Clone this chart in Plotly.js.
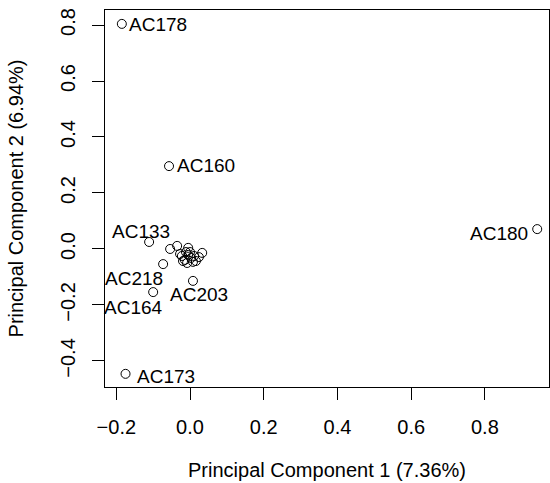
<!DOCTYPE html>
<html>
<head>
<meta charset="utf-8">
<script src="https://cdn.plot.ly/plotly-3.0.1.min.js"></script>
<style>html,body{margin:0;padding:0;background:#fff;}#chart{width:550px;height:483px;}</style>
</head>
<body>
<div id="chart"></div>
<script>
// Labelled samples
const labelNames = ["AC178", "AC160", "AC180", "AC133", "AC173", "AC218", "AC164", "AC203"];
const labelPC1 = [-0.185, -0.057, 0.942, -0.111, -0.175, -0.073, -0.100, 0.008];
const labelPC2 = [0.804, 0.296, 0.071, 0.025, -0.446, -0.054, -0.154, -0.114];

// Unlabelled samples (central cluster)
const clusterPC1 = [-0.054, -0.035, -0.005, 0.033, -0.022, -0.014, -0.005, 0.003, 0.011, 0.016, -0.008, -0.019, 0.000, 0.008, -0.027, -0.011, 0.024];
const clusterPC2 = [0.000, 0.011, 0.004, -0.014, -0.025, -0.039, -0.021, -0.032, -0.025, -0.043, -0.050, -0.043, -0.011, -0.046, -0.018, -0.011, -0.029];

const xTicks = [-0.2, 0.0, 0.2, 0.4, 0.6, 0.8];
const yTicks = [-0.4, -0.2, 0.0, 0.2, 0.4, 0.6, 0.8];

// label placement (styling)
const labelAnchor = ["left", "left", "right", "right", "left", "right", "right", "left"];
const labelDx = [5, 6, -7, 23, 9, 2, 12, -25];
const labelDy = [-1, 1, -4, 10, -3, -14, -15, -14];

const FONT = "Liberation Sans, Arial, Helvetica, sans-serif";
const marker = {symbol: "circle-open", size: 9, color: "#000", line: {width: 1, color: "#000"}};

const traces = [
  {x: clusterPC1, y: clusterPC2, mode: "markers", type: "scatter", marker: marker, hoverinfo: "none"},
  {x: labelPC1, y: labelPC2, mode: "markers", type: "scatter", marker: marker, hoverinfo: "none"}
];

const annotations = labelNames.map((t, i) => ({
  x: labelPC1[i], y: labelPC2[i], xref: "x", yref: "y", text: t, showarrow: false,
  xanchor: labelAnchor[i], yanchor: "middle", xshift: labelDx[i], yshift: labelDy[i],
  font: {family: FONT, size: 19, color: "#000"}
}));

const axisCommon = {
  showgrid: false, zeroline: false, showline: true, mirror: true, linecolor: "#000", linewidth: 1,
  ticks: "outside", ticklen: 12, tickwidth: 1, tickcolor: "#000", tickformat: ".1f",
  tickfont: {family: FONT, size: 20, color: "#000"}, automargin: false
};

const layout = {
  width: 550, height: 483,
  margin: {l: 105, r: 1, t: 10, b: 96},
  paper_bgcolor: "#fff", plot_bgcolor: "#fff",
  showlegend: false,
  font: {family: FONT, color: "#000"},
  xaxis: Object.assign({}, axisCommon, {
    range: [-0.2307, 0.974], tickvals: xTicks, ticklabelstandoff: 10,
    title: {text: "Principal Component 1 (7.36%)", font: {family: FONT, size: 20, color: "#000"}, standoff: 25}
  }),
  yaxis: Object.assign({}, axisCommon, {
    range: [-0.493, 0.8536], tickvals: yTicks, tickangle: -90, ticklabelstandoff: 9,
    title: {text: "Principal Component 2 (6.94%)", font: {family: FONT, size: 20, color: "#000"}, standoff: 28}
  }),
  annotations: annotations
};

Plotly.newPlot("chart", traces, layout, {staticPlot: true, displayModeBar: false});
</script>
</body>
</html>
